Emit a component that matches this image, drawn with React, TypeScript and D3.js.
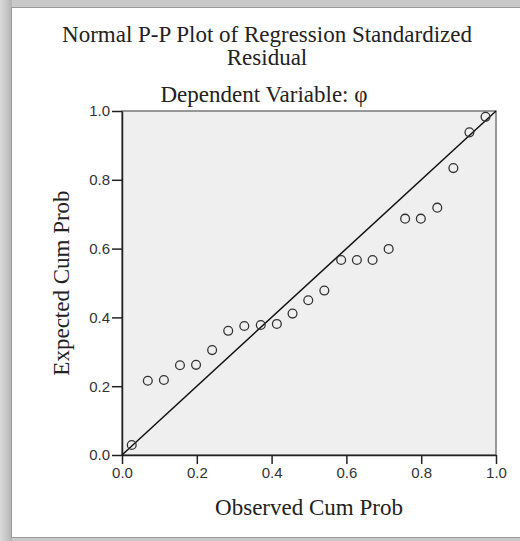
import React, { useEffect, useRef } from "react";
import * as d3 from "d3";

const titleLines = ["Normal P-P Plot of Regression Standardized", "Residual"];
const subtitle = "Dependent Variable: φ";
const xTitle = "Observed Cum Prob";
const yTitle = "Expected Cum Prob";
const tickValues = [0, 0.2, 0.4, 0.6, 0.8, 1.0];

const observed = [
  0.026, 0.069, 0.112, 0.155, 0.198, 0.241, 0.284, 0.327, 0.371, 0.414, 0.456, 0.498,
  0.541, 0.586, 0.628, 0.670, 0.713, 0.757, 0.799, 0.843, 0.886, 0.929, 0.972,
];
const expected = [
  0.029, 0.216, 0.218, 0.261, 0.262, 0.305, 0.361, 0.375, 0.378, 0.381, 0.411, 0.450,
  0.478, 0.567, 0.567, 0.567, 0.599, 0.687, 0.687, 0.719, 0.834, 0.938, 0.983,
];

const W = 520;
const H = 541;
const plot = { left: 122, right: 496, top: 111, bottom: 455 };
const serif = "'Liberation Serif', 'Times New Roman', serif";
const sans = "'Liberation Sans', Arial, sans-serif";

export default function App() {
  const ref = useRef<SVGSVGElement | null>(null);

  useEffect(() => {
    const svg = d3.select(ref.current);
    svg.selectAll("*").remove();

    const defs = svg.append("defs");
    const lg = defs.append("linearGradient").attr("id", "leftShade").attr("x1", "0").attr("x2", "1");
    lg.append("stop").attr("offset", "0").attr("stop-color", "#dadada");
    lg.append("stop").attr("offset", "1").attr("stop-color", "#b4b4b4");

    // frame
    svg.append("rect").attr("x", 0).attr("y", 0).attr("width", W).attr("height", H).attr("fill", "#c9c9c9");
    svg.append("rect").attr("x", 0).attr("y", 0).attr("width", 12).attr("height", H).attr("fill", "url(#leftShade)");
    svg.append("rect").attr("x", 11).attr("y", 7).attr("width", W - 11).attr("height", 531).attr("fill", "#9a9a9a");
    svg.append("rect").attr("x", 12).attr("y", 8).attr("width", W - 12).attr("height", 529).attr("fill", "#ffffff");

    const x = d3.scaleLinear().domain([0, 1]).range([plot.left, plot.right]);
    const y = d3.scaleLinear().domain([0, 1]).range([plot.bottom, plot.top]);

    // plot background
    svg.append("rect")
      .attr("x", plot.left).attr("y", plot.top)
      .attr("width", plot.right - plot.left).attr("height", plot.bottom - plot.top)
      .attr("fill", "#efefef").attr("stroke", "#7a7a7a").attr("stroke-width", 1.5);

    // axes
    const xAxis = d3.axisBottom(x).tickValues(tickValues).tickFormat(d3.format(".1f")).tickSize(9).tickSizeOuter(0).tickPadding(3);
    const gx = svg.append("g").attr("transform", `translate(0,${plot.bottom})`).call(xAxis);
    gx.select(".domain").attr("stroke", "#222").attr("stroke-width", 1.5);
    gx.selectAll(".tick line").attr("stroke", "#222").attr("stroke-width", 1.5);
    gx.selectAll(".tick text").attr("font-family", sans).attr("font-size", 15).attr("fill", "#333");

    const yAxis = d3.axisLeft(y).tickValues(tickValues).tickFormat(d3.format(".1f")).tickSize(10).tickSizeOuter(0).tickPadding(2);
    const gy = svg.append("g").attr("transform", `translate(${plot.left},0)`).call(yAxis);
    gy.select(".domain").attr("stroke", "#222").attr("stroke-width", 1.5);
    gy.selectAll(".tick line").attr("stroke", "#222").attr("stroke-width", 1.5);
    gy.selectAll(".tick text").attr("font-family", sans).attr("font-size", 15).attr("fill", "#333");

    // diagonal reference line
    svg.append("line")
      .attr("x1", x(0)).attr("y1", y(0)).attr("x2", x(1)).attr("y2", y(1))
      .attr("stroke", "#111").attr("stroke-width", 1.5);

    // points
    svg.append("g").selectAll("circle")
      .data(observed.map((o, i) => [o, expected[i]]))
      .join("circle")
      .attr("cx", (d) => x(d[0])).attr("cy", (d) => y(d[1]))
      .attr("r", 4.4).attr("fill", "none").attr("stroke", "#333").attr("stroke-width", 1.3);

    // titles
    const t = svg.append("text").attr("font-family", serif).attr("font-size", 23).attr("fill", "#222").attr("text-anchor", "middle");
    t.append("tspan").attr("x", 267).attr("y", 42).text(titleLines[0]);
    t.append("tspan").attr("x", 267).attr("y", 65).text(titleLines[1]);
    svg.append("text").attr("font-family", serif).attr("font-size", 23).attr("fill", "#222")
      .attr("text-anchor", "middle").attr("x", 264).attr("y", 102).text(subtitle);

    svg.append("text").attr("font-family", serif).attr("font-size", 23).attr("fill", "#222")
      .attr("text-anchor", "middle").attr("x", (plot.left + plot.right) / 2).attr("y", 515).text(xTitle);
    svg.append("text").attr("font-family", serif).attr("font-size", 23).attr("fill", "#222")
      .attr("text-anchor", "middle")
      .attr("transform", `translate(69,${(plot.top + plot.bottom) / 2}) rotate(-90)`).text(yTitle);
  }, []);

  return (
    <svg ref={ref} width={W} height={H} style={{ position: "absolute", left: 0, top: 0, display: "block" }} />
  );
}
